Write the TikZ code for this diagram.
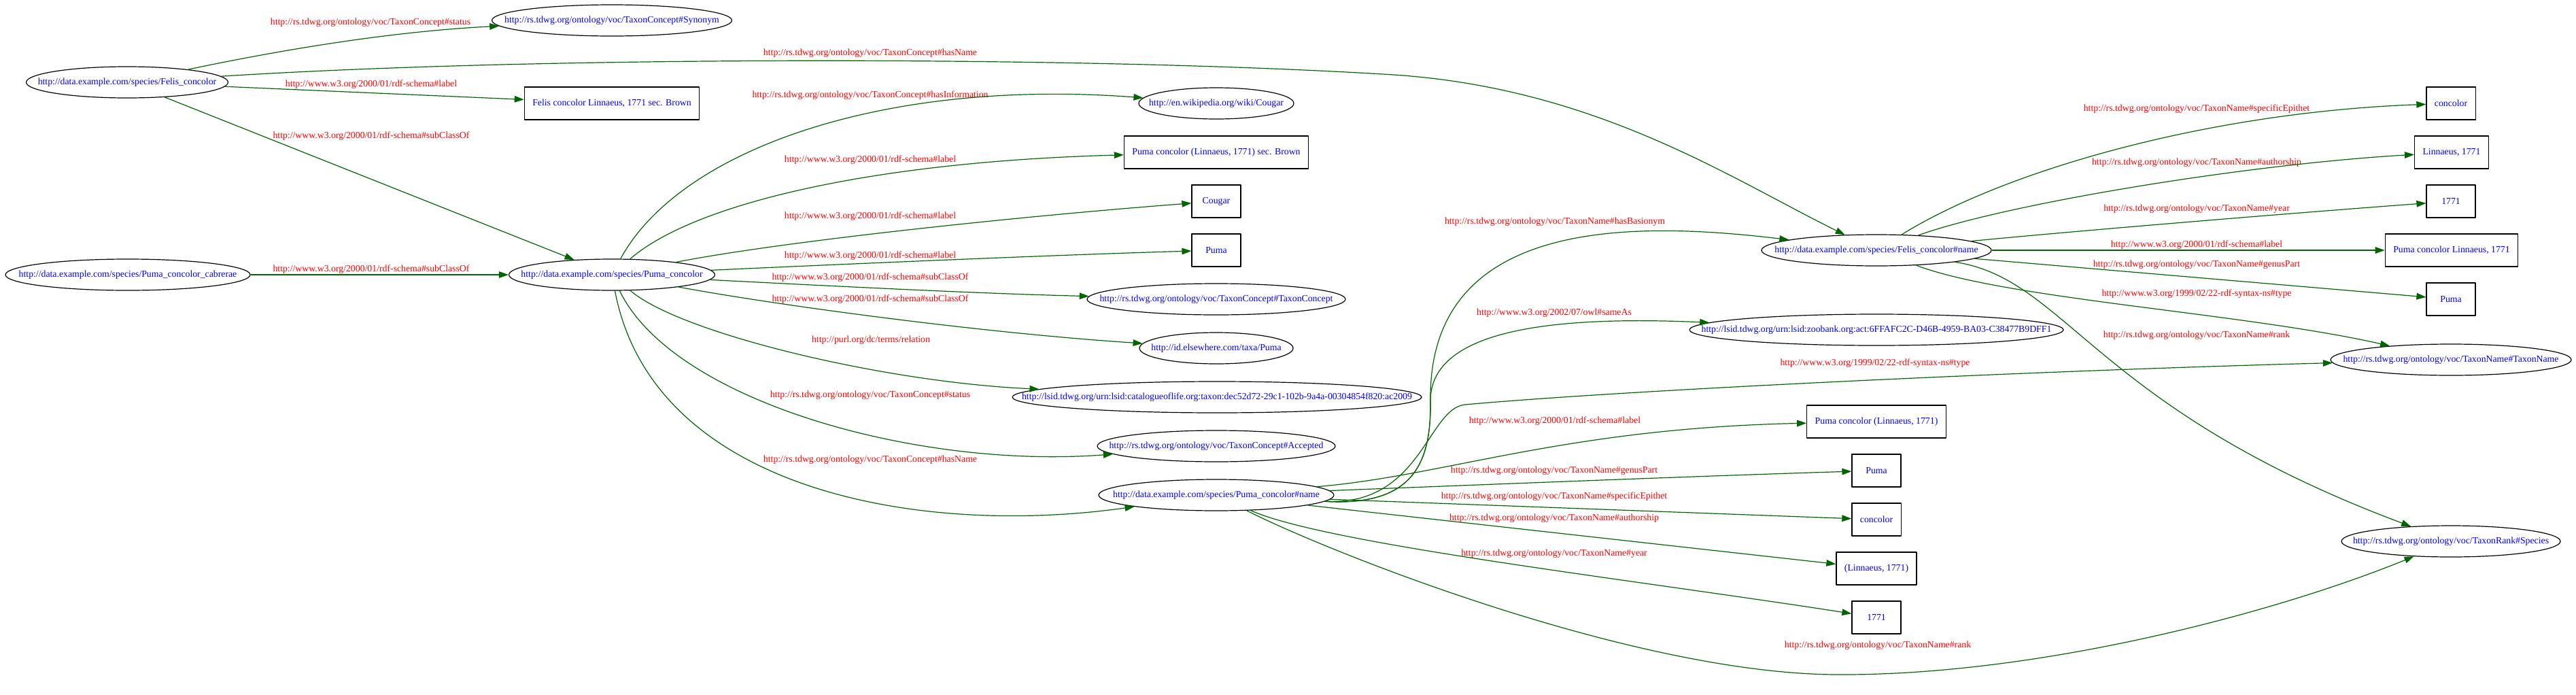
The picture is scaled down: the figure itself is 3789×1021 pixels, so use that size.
\documentclass[tikz,border=0pt]{standalone}
\usepackage{fontspec}
\setmainfont{Liberation Serif}
\usetikzlibrary{arrows.meta,shapes.geometric}
\definecolor{dkgreen}{RGB}{0,100,0}
\newcommand{\exsp}{http://data.example.com/species/}
\newcommand{\tdwgtc}{http://rs.tdwg.org/ontology/voc/TaxonConcept\#}
\newcommand{\tdwgtn}{http://rs.tdwg.org/ontology/voc/TaxonName\#}
\newcommand{\rdfs}{http://www.w3.org/2000/01/rdf-schema\#}
\begin{document}
\begin{tikzpicture}[x=0.25mm, y=-0.25mm, font=\fontsize{9.8}{11}\selectfont, line join=round,
  >={Triangle[length=3.5mm,width=2.4mm]},
  res/.style={ellipse, draw, line width=0.3mm, text=blue, minimum height=11.5mm, inner xsep=-50mm, minimum width=#1*0.25mm},
  lit/.style={rectangle, draw, line width=0.3mm, text=blue, minimum height=12mm, minimum width=18mm, inner xsep=3mm},
  prop/.style={text=red, inner sep=0pt},
  arr/.style={draw=dkgreen, line width=0.3mm, ->}]
\fill[white] (0,0) rectangle (3789,1021);
\useasboundingbox (0,0) rectangle (3789,1021);
% resources
\node[res=297] (fc) at (187,121) {\exsp Felis\_concolor};
\node[res=353] (syn) at (900,30) {\tdwgtc Synonym};
\node[res=360] (cab) at (188,404) {\exsp Puma\_concolor\_cabrerae};
\node[res=303] (pc) at (900,404) {\exsp Puma\_concolor};
\node[res=228] (wiki) at (1789,152) {http://en.wikipedia.org/wiki/Cougar};
\node[res=380] (tcc) at (1789,440) {\tdwgtc TaxonConcept};
\node[res=226] (els) at (1789,512) {http://id.elsewhere.com/taxa/Puma};
\node[res=602] (col) at (1790,584) {http://lsid.tdwg.org/urn:lsid:catalogueoflife.org:taxon:dec52d72-29c1-102b-9a4a-00304854f820:ac2009};
\node[res=350] (acc) at (1789,656) {\tdwgtc Accepted};
\node[res=346] (pcn) at (1789,728) {\exsp Puma\_concolor\#name};
\node[res=338] (fcn) at (2760,368) {\exsp Felis\_concolor\#name};
\node[res=550] (zoo) at (2760,485) {http://lsid.tdwg.org/urn:lsid:zoobank.org:act:6FFAFC2C-D46B-4959-BA03-C38477B9DFF1};
\node[res=354] (tn) at (3605,529) {\tdwgtn TaxonName};
\node[res=322] (sp) at (3605,796) {http://rs.tdwg.org/ontology/voc/TaxonRank\#Species};
% literals
\node[lit] (fcl) at (900,152) {Felis concolor Linnaeus, 1771 sec. Brown};
\node[lit] (pcl) at (1789,224) {Puma concolor (Linnaeus, 1771) sec. Brown};
\node[lit] (cougar) at (1789,296) {Cougar};
\node[lit] (puma) at (1789,368) {Puma};
\node[lit] (pnl) at (2760,620) {Puma concolor (Linnaeus, 1771)};
\node[lit] (pgen) at (2760,692) {Puma};
\node[lit] (pepi) at (2760,764) {concolor};
\node[lit] (pauth) at (2760,836) {(Linnaeus, 1771)};
\node[lit] (pyear) at (2760,908) {1771};
\node[lit] (fepi) at (3605,152) {concolor};
\node[lit] (fauth) at (3606,224) {Linnaeus, 1771};
\node[lit] (fyear) at (3605,296) {1771};
\node[lit] (fnl) at (3606,368) {Puma concolor Linnaeus, 1771};
\node[lit] (fgen) at (3605,440) {Puma};
% properties
\node[prop] (l1) at (545,33) {\tdwgtc status};
\node[prop] (l2) at (546,124) {\rdfs label};
\node[prop] (l3) at (546,200) {\rdfs subClassOf};
\node[prop] (l4) at (546,396) {\rdfs subClassOf};
\node[prop] (l5) at (1280,78) {\tdwgtc hasName};
\node[prop] (l6) at (1280,140) {\tdwgtc hasInformation};
\node[prop] (l7) at (1280,235) {\rdfs label};
\node[prop] (l8) at (1280,318) {\rdfs label};
\node[prop] (l9) at (1280,376) {\rdfs label};
\node[prop] (l10) at (1280,408) {\rdfs subClassOf};
\node[prop] (l11) at (1280,440) {\rdfs subClassOf};
\node[prop] (l12) at (1281,500) {http://purl.org/dc/terms/relation};
\node[prop] (l13) at (1280,581) {\tdwgtc status};
\node[prop] (l14) at (1280,676) {\tdwgtc hasName};
\node[prop] (l15) at (2287,326) {\tdwgtn hasBasionym};
\node[prop] (l16) at (2286,460) {http://www.w3.org/2002/07/owl\#sameAs};
\node[prop] (l17) at (2758,534) {http://www.w3.org/1999/02/22-rdf-syntax-ns\#type};
\node[prop] (l18) at (2287,619) {\rdfs label};
\node[prop] (l19) at (2286,692) {\tdwgtn genusPart};
\node[prop] (l20) at (2286,730) {\tdwgtn specificEpithet};
\node[prop] (l21) at (2286,762) {\tdwgtn authorship};
\node[prop] (l22) at (2286,814) {\tdwgtn year};
\node[prop] (l23) at (2762,949) {\tdwgtn rank};
\node[prop] (l24) at (3231,160) {\tdwgtn specificEpithet};
\node[prop] (l25) at (3231,239) {\tdwgtn authorship};
\node[prop] (l26) at (3231,307) {\tdwgtn year};
\node[prop] (l27) at (3231,360) {\rdfs label};
\node[prop] (l28) at (3231,389) {\tdwgtn genusPart};
\node[prop] (l29) at (3231,432) {http://www.w3.org/1999/02/22-rdf-syntax-ns\#type};
\node[prop] (l30) at (3231,493) {\tdwgtn rank};
% statements
\draw[arr] (fc) .. controls (420,72) and (580,46) .. (syn);
\draw[arr] (fc) .. controls (800,82) and (1600,82) .. (2050,110) .. controls (2350,130) and (2548,264) .. (fcn);
\draw[arr] (fc) -- (fcl);
\draw[arr] (fc) -- (pc);
\draw[arr] (cab) -- (pc);
\draw[arr] (pc) .. controls (1000,220) and (1300,115) .. (wiki);
\draw[arr] (pc) .. controls (1020,300) and (1280,238) .. (pcl);
\draw[arr] (pc) .. controls (1150,355) and (1500,318) .. (cougar);
\draw[arr] (pc) .. controls (1250,388) and (1550,375) .. (puma);
\draw[arr] (pc) .. controls (1250,422) and (1450,432) .. (tcc);
\draw[arr] (pc) .. controls (1150,450) and (1450,490) .. (els);
\draw[arr] (pc) .. controls (1000,490) and (1300,562) .. (col);
\draw[arr] (pc) .. controls (990,590) and (1350,690) .. (acc);
\draw[arr] (pc) .. controls (960,720) and (1350,790) .. (pcn);
\draw[arr] (pcn) .. controls (2080,745) and (2105,680) .. (2104,590) .. controls (2100,320) and (2400,325) .. (fcn);
\draw[arr] (pcn) .. controls (2080,745) and (2105,680) .. (2104,590) .. controls (2103,480) and (2300,465) .. (zoo);
\draw[arr] (pcn) .. controls (2090,745) and (2100,600) .. (2155,595) .. controls (2400,573) and (3000,545) .. (tn);
\draw[arr] (pcn) .. controls (2125,700) and (2300,630) .. (pnl);
\draw[arr] (pcn) .. controls (2200,712) and (2500,700) .. (pgen);
\draw[arr] (pcn) -- (pepi);
\draw[arr] (pcn) -- (pauth);
\draw[arr] (pcn) .. controls (1950,800) and (2400,852) .. (pyear);
\draw[arr] (pcn) .. controls (1950,810) and (2400,990) .. (2700,992) .. controls (3000,994) and (3350,900) .. (sp);
\draw[arr] (fcn) .. controls (2950,250) and (3250,165) .. (fepi);
\draw[arr] (fcn) .. controls (2950,300) and (3300,242) .. (fauth);
\draw[arr] (fcn) .. controls (3050,340) and (3350,315) .. (fyear);
\draw[arr] (fcn) -- (fnl);
\draw[arr] (fcn) -- (fgen);
\draw[arr] (fcn) .. controls (2950,440) and (3300,460) .. (tn);
\draw[arr] (fcn) .. controls (3040,410) and (3080,600) .. (sp);
\end{tikzpicture}
\end{document}
